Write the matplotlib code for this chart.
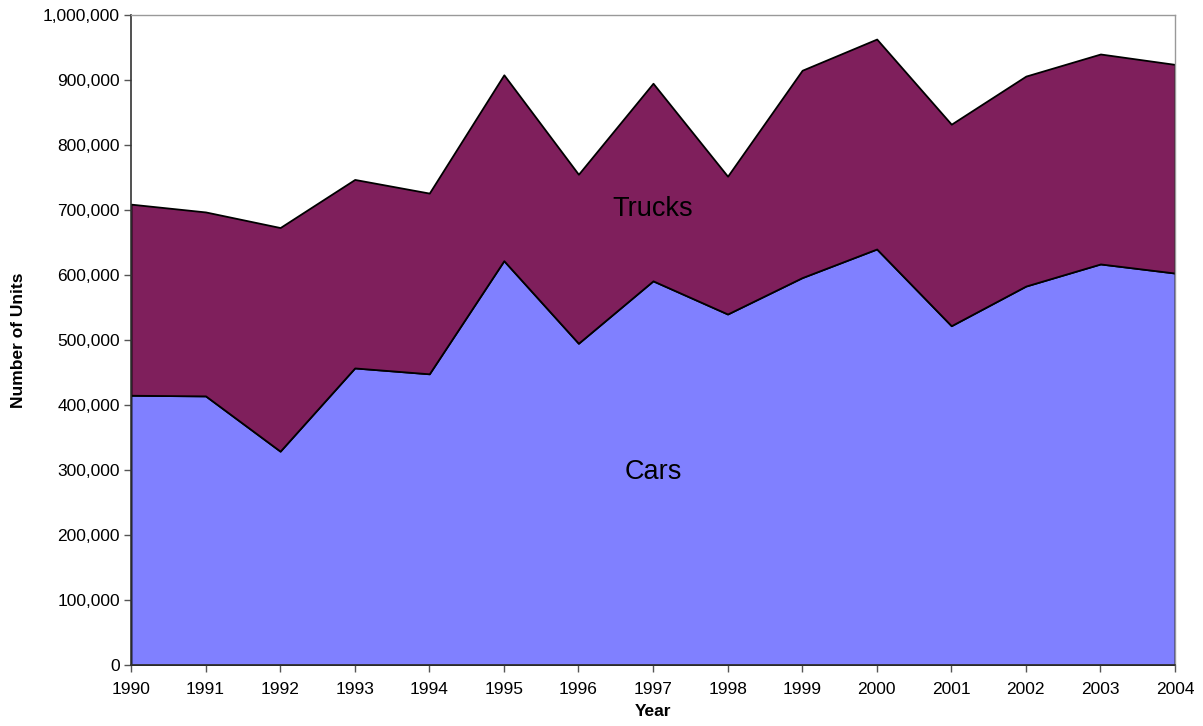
import numpy as np
import matplotlib
matplotlib.use("Agg")
import matplotlib.pyplot as plt
from matplotlib.ticker import FuncFormatter, MultipleLocator

plt.rcParams['font.family'] = ['Liberation Sans', 'DejaVu Sans']

years = list(range(1990, 2005))
cars = [415000, 414000, 329000, 457000, 448000, 622000, 495000, 591000,
        540000, 596000, 640000, 522000, 583000, 617000, 603000]
totals = [709000, 697000, 673000, 747000, 726000, 908000, 755000, 895000,
          752000, 915000, 963000, 832000, 906000, 940000, 924000]
trucks = [t - c for t, c in zip(totals, cars)]

fig = plt.figure(figsize=(12.03, 7.26), dpi=100)
ax = fig.add_axes([131/1203, 1 - 665/726, (1175 - 131)/1203, (665 - 15)/726])

ax.stackplot(years, cars, trucks, colors=['#8080FF', '#7F1F5C'],
             edgecolor='black', linewidth=1.3)

ax.set_xlim(1990, 2004)
ax.set_ylim(0, 1000000)
ax.set_xticks(years)
ax.yaxis.set_major_locator(MultipleLocator(100000))
ax.yaxis.set_major_formatter(FuncFormatter(lambda v, p: f"{int(v):,}"))
ax.tick_params(axis='both', direction='out', length=5, width=1,
               labelsize=12.5, color='#555555')
ax.tick_params(axis='y', pad=3)
ax.tick_params(axis='x', pad=7)

for side in ['top', 'right']:
    ax.spines[side].set_color('#999999')
    ax.spines[side].set_linewidth(1)
for side in ['left', 'bottom']:
    ax.spines[side].set_color('#333333')
    ax.spines[side].set_linewidth(1.2)

ax.set_xlabel("Year", fontsize=12.5, fontweight='bold', labelpad=5)
ax.set_ylabel("Number of Units", fontsize=12.5, fontweight='bold', labelpad=12)

ax.text(1997, 701000, "Trucks", fontsize=19.5, ha='center', va='center')
ax.text(1997, 297000, "Cars", fontsize=19.5, ha='center', va='center')

fig.savefig("out.png", dpi=100)
